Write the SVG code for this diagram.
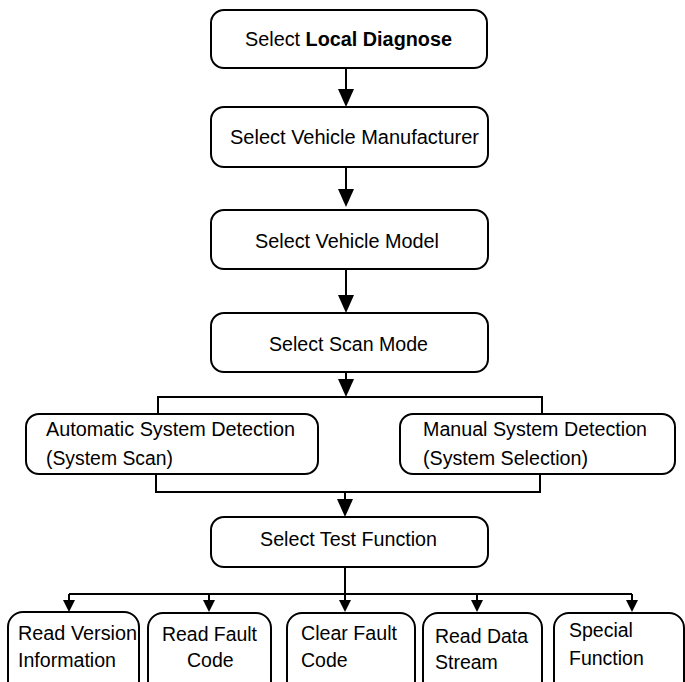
<svg xmlns="http://www.w3.org/2000/svg" width="685" height="682" viewBox="0 0 685 682">
<style>
.box{fill:#fff;stroke:#000;stroke-width:2}
.t{font-family:"Liberation Sans",Arial,sans-serif;font-size:19.5px;fill:#000}
.b{font-weight:bold}
.c{fill:none;stroke:#000;stroke-width:2}
</style>
<defs>
<marker id="big" markerUnits="userSpaceOnUse" markerWidth="18" markerHeight="16" refX="12" refY="8" orient="auto">
<path d="M0,0 L18,8 L0,16 z" fill="#000"/>
</marker>
<marker id="small" markerUnits="userSpaceOnUse" markerWidth="12" markerHeight="12" refX="7" refY="6" orient="auto">
<path d="M0,0 L12,6 L0,12 z" fill="#000"/>
</marker>
</defs>
<rect width="685" height="682" fill="#fff"/>
<g id="connectors">
<path class="c" d="M346,68 V101" marker-end="url(#big)"/>
<path class="c" d="M346,167 V201" marker-end="url(#big)"/>
<path class="c" d="M346,269 V307" marker-end="url(#big)"/>
<path class="c" d="M346,372 V391" marker-end="url(#big)"/>
<path class="c" d="M158,414 V397 H542 V414"/>
<path class="c" d="M156,474 V492 H540 V474"/>
<path class="c" d="M345,492 V511" marker-end="url(#big)"/>
<path class="c" d="M345,567 V607" marker-end="url(#small)"/>
<path class="c" d="M69,594 H632"/>
<path class="c" d="M69,594 V607" marker-end="url(#small)"/>
<path class="c" d="M209,594 V607" marker-end="url(#small)"/>
<path class="c" d="M477,594 V607" marker-end="url(#small)"/>
<path class="c" d="M632,594 V607" marker-end="url(#small)"/>
</g>
<g id="local-diagnose">
<rect class="box" x="211" y="10" width="276" height="58" rx="13"/>
<text class="t" x="245" y="46" textLength="207" lengthAdjust="spacingAndGlyphs">Select <tspan class="b">Local Diagnose</tspan></text>
</g>
<g id="vehicle-manufacturer">
<rect class="box" x="211" y="107" width="277" height="60" rx="13"/>
<text class="t" x="230" y="144" textLength="249" lengthAdjust="spacingAndGlyphs">Select Vehicle Manufacturer</text>
</g>
<g id="vehicle-model">
<rect class="box" x="211" y="210" width="277" height="59" rx="13"/>
<text class="t" x="255" y="248" textLength="184" lengthAdjust="spacingAndGlyphs">Select Vehicle Model</text>
</g>
<g id="scan-mode">
<rect class="box" x="211" y="313" width="277" height="59" rx="13"/>
<text class="t" x="269" y="351" textLength="159" lengthAdjust="spacingAndGlyphs">Select Scan Mode</text>
</g>
<g id="automatic-detection">
<rect class="box" x="26" y="414" width="292" height="60" rx="13"/>
<text class="t" x="46" y="436" textLength="249" lengthAdjust="spacingAndGlyphs">Automatic System Detection</text>
<text class="t" x="46" y="465" textLength="127" lengthAdjust="spacingAndGlyphs">(System Scan)</text>
</g>
<g id="manual-detection">
<rect class="box" x="400" y="414" width="275" height="60" rx="13"/>
<text class="t" x="423" y="436" textLength="224" lengthAdjust="spacingAndGlyphs">Manual System Detection</text>
<text class="t" x="423" y="465" textLength="165" lengthAdjust="spacingAndGlyphs">(System Selection)</text>
</g>
<g id="test-function">
<rect class="box" x="211" y="517" width="277" height="50" rx="13"/>
<text class="t" x="260" y="546" textLength="177" lengthAdjust="spacingAndGlyphs">Select Test Function</text>
</g>
<g id="read-version">
<rect class="box" x="8" y="612" width="131" height="90" rx="15"/>
<text class="t" x="18" y="640" textLength="119" lengthAdjust="spacingAndGlyphs">Read Version</text>
<text class="t" x="18" y="667" textLength="98" lengthAdjust="spacingAndGlyphs">Information</text>
</g>
<g id="read-fault-code">
<rect class="box" x="148" y="613" width="123" height="90" rx="15"/>
<text class="t" x="162" y="641" textLength="95" lengthAdjust="spacingAndGlyphs">Read Fault</text>
<text class="t" x="187" y="667">Code</text>
</g>
<g id="clear-fault-code">
<rect class="box" x="287" y="613" width="128" height="90" rx="15"/>
<text class="t" x="301" y="640" textLength="96" lengthAdjust="spacingAndGlyphs">Clear Fault</text>
<text class="t" x="301" y="667">Code</text>
</g>
<g id="read-data-stream">
<rect class="box" x="423" y="613" width="119" height="90" rx="15"/>
<text class="t" x="435" y="643" textLength="93" lengthAdjust="spacingAndGlyphs">Read Data</text>
<text class="t" x="435" y="669">Stream</text>
</g>
<g id="special-function">
<rect class="box" x="554" y="613" width="130" height="90" rx="15"/>
<text class="t" x="569" y="637">Special</text>
<text class="t" x="569" y="665">Function</text>
</g>
</svg>
